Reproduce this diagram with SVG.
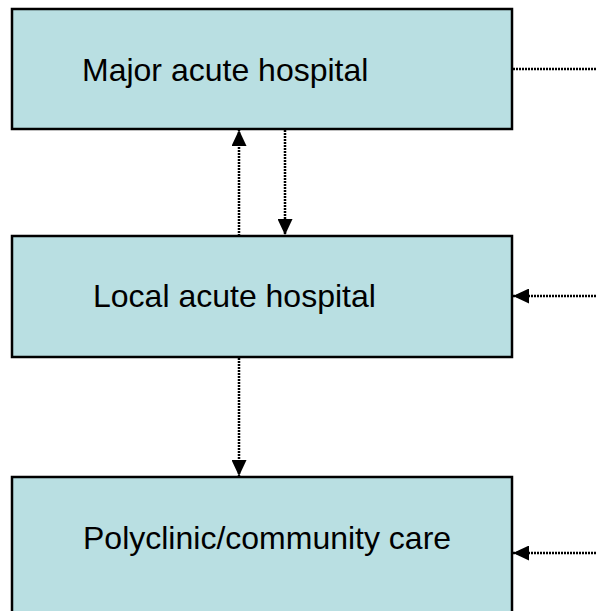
<svg xmlns="http://www.w3.org/2000/svg" width="596" height="611" viewBox="0 0 596 611">
<style>
.box{fill:#B9DFE2;stroke:#000;stroke-width:2.5}
.lbl{font-family:"Liberation Sans",Arial,sans-serif;font-size:32px;fill:#000}
.con{stroke:#000;stroke-width:2.5;stroke-dasharray:2 1;fill:none}
</style>
<defs>
<marker id="ah" viewBox="0 0 16 15" refX="16" refY="7.5" markerWidth="16" markerHeight="15" markerUnits="userSpaceOnUse" orient="auto">
<path d="M0,0 L16,7.5 L0,15 Z" fill="#000"/>
</marker>
</defs>
<rect width="596" height="611" fill="#fff"/>
<g id="major">
<rect class="box" x="12" y="9" width="500" height="120"/>
<text class="lbl" x="82" y="81">Major acute hospital</text>
</g>
<g id="local">
<rect class="box" x="12" y="236" width="500" height="121"/>
<text class="lbl" x="93" y="307">Local acute hospital</text>
</g>
<g id="poly">
<rect class="box" x="12" y="477" width="500" height="150"/>
<text class="lbl" x="83" y="549">Polyclinic/community care</text>
</g>
<g id="connectors">
<line class="con" x1="239" y1="236" x2="239" y2="130" marker-end="url(#ah)"/>
<line class="con" x1="285" y1="130" x2="285" y2="235" marker-end="url(#ah)"/>
<line class="con" x1="239" y1="358" x2="239" y2="476" marker-end="url(#ah)"/>
<line class="con" x1="513" y1="69" x2="596" y2="69"/>
<line class="con" x1="596" y1="296" x2="513" y2="296" marker-end="url(#ah)"/>
<line class="con" x1="596" y1="553" x2="513" y2="553" marker-end="url(#ah)"/>
</g>
</svg>
